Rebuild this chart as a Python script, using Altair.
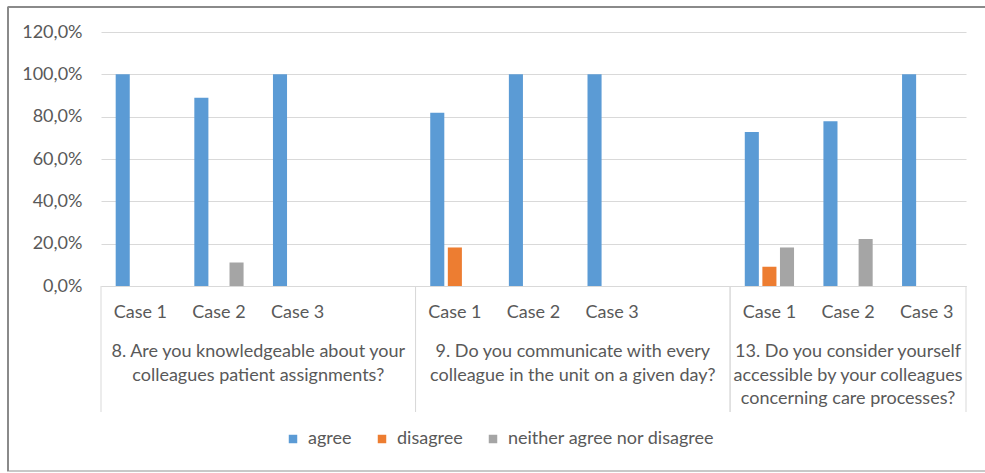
import altair as alt
import pandas as pd

FONT = "Lato"
TEXT = "#595959"
GRID = "#d9d9d9"

# Survey questions (x-axis groups) and the cases asked within each one
question_ids = ["Q8", "Q9", "Q13"]
question_texts = [
    "8. Are you knowledgeable about your\ncolleagues patient assignments?",
    "9. Do you communicate with every\ncolleague in the unit on a given day?",
    "13. Do you consider yourself\naccessible by your colleagues\nconcerning care processes?",
]
cases = ["Case 1", "Case 2", "Case 3"]
# category slots per question (Q8 and Q9 carry one empty slot)
slot_counts = [4, 4, 3]

series = ["agree", "disagree", "neither agree nor disagree"]
colors = ["#5b9bd5", "#ed7d31", "#a5a5a5"]

# share of answers, ordered Q8 case1..3, Q9 case1..3, Q13 case1..3
agree = [1.0, 0.889, 1.0, 0.818, 1.0, 1.0, 0.727, 0.778, 1.0]
disagree = [0.0, 0.0, 0.0, 0.182, 0.0, 0.0, 0.091, 0.0, 0.0]
neither = [0.0, 0.111, 0.0, 0.0, 0.0, 0.0, 0.182, 0.222, 0.0]

y_ticks = [0, 0.2, 0.4, 0.6, 0.8, 1.0, 1.2]

# ---- tables -------------------------------------------------------------
slots = []
q_slots = []
for qid, n in zip(question_ids, slot_counts):
    own = [f"{qid}|{cases[i] if i < len(cases) else ''}" for i in range(n)]
    q_slots.append(own)
    slots.extend(own)

rows = []
for qi, qid in enumerate(question_ids):
    for ci, case in enumerate(cases):
        k = qi * len(cases) + ci
        for s, vals in zip(series, [agree, disagree, neither]):
            rows.append({"slot": f"{qid}|{case}", "series": s, "value": vals[k]})
bars_df = pd.DataFrame(rows)

label_rows = []
for text, own in zip(question_texts, q_slots):
    n = len(own)
    label_rows.append({"slot": own[n // 2], "question": text, "even": n % 2 == 0})
labels_df = pd.DataFrame(label_rows)

left_edges = pd.DataFrame({"slot": [own[0] for own in q_slots]})
right_edges = pd.DataFrame({"slot": [own[-1] for own in q_slots]})

x_scale = alt.Scale(domain=slots, paddingInner=0, paddingOuter=0)

# ---- layers -------------------------------------------------------------
bars = alt.Chart(bars_df).mark_bar().encode(
    x=alt.X(
        "slot:N",
        scale=x_scale,
        sort=slots,
        axis=alt.Axis(
            title=None,
            labelExpr="split(datum.value, '|')[1]",
            ticks=False,
            grid=False,
            domainColor=GRID,
            domainWidth=1,
            labelAngle=0,
            labelPadding=17,
            labelFont=FONT,
            labelFontSize=18,
            labelColor=TEXT,
            labelOverlap=False,
            labelFlush=False,
        ),
    ),
    xOffset=alt.XOffset(
        "series:N",
        sort=series,
        scale=alt.Scale(domain=series, paddingInner=0.2, paddingOuter=0.835),
    ),
    y=alt.Y(
        "value:Q",
        scale=alt.Scale(domain=[0, 1.2], nice=False),
        axis=alt.Axis(
            title=None,
            values=y_ticks,
            labelExpr="replace(format(datum.value, '.1%'), '.', ',')",
            domain=False,
            ticks=False,
            labelPadding=19,
            labelFont=FONT,
            labelFontSize=18,
            labelColor=TEXT,
            gridColor=GRID,
            gridWidth=1,
        ),
    ),
    color=alt.Color(
        "series:N",
        sort=series,
        scale=alt.Scale(domain=series, range=colors),
        legend=alt.Legend(
            title=None,
            orient="none",
            legendX=183,
            legendY=398,
            direction="horizontal",
            symbolType="square",
            symbolSize=72,
            symbolStrokeWidth=0,
            symbolOpacity=1,
            labelFont=FONT,
            labelFontSize=18,
            labelColor=TEXT,
            labelOffset=6,
            labelLimit=0,
            columnPadding=21,
            padding=0,
        ),
    ),
)

# group dividers under the axis
left_rules = alt.Chart(left_edges).mark_rule(color=GRID, strokeWidth=1).encode(
    x=alt.X("slot:N", bandPosition=0, scale=x_scale, sort=slots),
    y=alt.value(254),
    y2=alt.value(380),
)
right_rules = alt.Chart(right_edges).mark_rule(color=GRID, strokeWidth=1).encode(
    x=alt.X("slot:N", bandPosition=1, scale=x_scale, sort=slots),
    y=alt.value(254),
    y2=alt.value(380),
)

# question captions centred under their group of cases
text_style = dict(
    lineBreak="\n", font=FONT, fontSize=18, color=TEXT,
    align="center", baseline="top", lineHeight=23.5,
)
q_even = alt.Chart(labels_df).transform_filter("datum.even").mark_text(**text_style).encode(
    x=alt.X("slot:N", bandPosition=0, scale=x_scale, sort=slots),
    y=alt.value(311),
    text="question:N",
)
q_odd = alt.Chart(labels_df).transform_filter("!datum.even").mark_text(**text_style).encode(
    x=alt.X("slot:N", bandPosition=0.5, scale=x_scale, sort=slots),
    y=alt.value(311),
    text="question:N",
)

# outer frame of the figure: light outline, darker left and top edges
one = pd.DataFrame({"f": [0]})
frame = alt.Chart(one).mark_rect(fill=None, stroke="#c8c8c8", strokeWidth=2).encode(
    x=alt.value(-93), x2=alt.value(900), y=alt.value(-25), y2=alt.value(439)
)
frame_left = alt.Chart(one).mark_rule(color="#8a8a8a", strokeWidth=2).encode(
    x=alt.value(-93), y=alt.value(-25), y2=alt.value(439)
)
frame_top = alt.Chart(one).mark_rule(color="#8a8a8a", strokeWidth=2).encode(
    x=alt.value(-93), x2=alt.value(900), y=alt.value(-25)
)

chart = (
    alt.layer(frame, frame_left, frame_top, bars, left_rules, right_rules, q_even, q_odd)
    .properties(
        width=865,
        height=254,
        autosize=alt.AutoSizeParams(type="none"),
        padding={"left": 101, "top": 32, "right": 19, "bottom": 187},
        background="white",
    )
    .configure_view(stroke=None)
)

chart.save("out.html", embed_options={"renderer": "svg", "actions": False})
